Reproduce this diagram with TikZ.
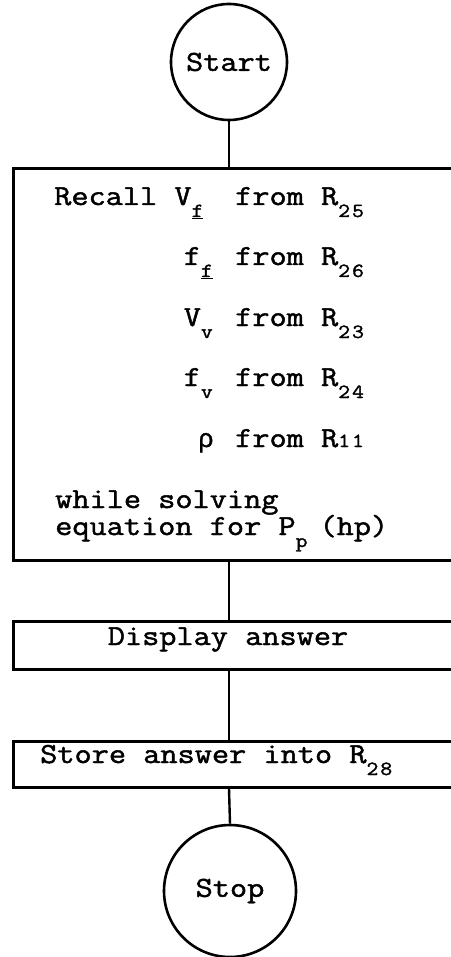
\documentclass[tikz,border=0pt]{standalone}
\usepackage{fontspec}
\newfontfamily\tw[FakeBold=1.6,FakeStretch=1.15]{Latin Modern Mono}
\newfontfamily\gr[FakeBold=1.2]{Liberation Mono}
\newcommand\sbs[1]{\raisebox{-12pt}{\fontsize{20}{20}\tw #1}}
\newcommand\sbn[1]{{\fontsize{20}{20}\tw #1}}
\begin{document}
\begin{tikzpicture}[x=1pt,y=1pt,
  txt/.style={font=\fontsize{29}{32}\tw, inner sep=0pt},
  term/.style={circle, draw, line width=2.6pt, inner sep=0pt, font=\fontsize{29}{32}\tw},
  boxx/.style={rectangle, draw, line width=2.6pt, inner sep=0pt, anchor=north west},
  conn/.style={line width=2.4pt}]
\useasboundingbox (0,0) rectangle (450,-957);
% terminals
\node[term, minimum size=116pt] (start) at (229,-62) {Start};
\node[term, minimum size=132pt] (stop) at (230,-891) {Stop};
% boxes
\node[boxx, minimum width=460pt, minimum height=392pt] (main) at (12,-167) {};
\node[boxx, minimum width=460pt, minimum height=48pt] (disp) at (12,-620) {};
\node[boxx, minimum width=460pt, minimum height=46pt] (store) at (12,-740) {};
% connectors
\draw[conn] (start.south) -- (start.south |- main.north);
\draw[conn] (start.south |- main.south) -- (start.south |- disp.north);
\draw[conn] (start.south |- disp.south) -- (start.south |- store.north);
\draw[conn] (start.south |- store.south) -- (stop.north);
% main box text
\node[txt, anchor=base west] (l1a) at (54,-205) {Recall V\sbs{\underline{f}}};
\node[txt, anchor=base west] (l1b) at (235,-205) {from R\sbs{2\kern2pt5}};
\node[txt, anchor=base east] (l2a) at (213,-265) {f\sbs{\underline{f}}};
\node[txt, anchor=base west] (l2b) at (235,-265) {from R\sbs{2\kern2pt6}};
\node[txt, anchor=base east] (l3a) at (213,-326) {V\sbs{v}};
\node[txt, anchor=base west] (l3b) at (235,-326) {from R\sbs{2\kern2pt3}};
\node[txt, anchor=base east] (l4a) at (213,-386) {f\sbs{v}};
\node[txt, anchor=base west] (l4b) at (235,-386) {from R\sbs{2\kern2pt4}};
\node[txt, anchor=base east, font=\fontsize{26}{30}\gr] (l5a) at (214,-447) {ρ};
\node[txt, anchor=base west] (l5b) at (235,-447) {from R\sbn{1\kern2pt1}};
\node[txt, anchor=base west] (l6) at (55,-508) {while solving};
\node[txt, anchor=base west] (l7) at (55,-535) {equation for P\sbs{p}\kern12pt (hp)};
% other texts
\node[txt, anchor=base] (dtxt) at (228,-645) {Display answer};
\node[txt, anchor=base west] (stxt) at (40,-763) {Store answer into R\sbs{2\kern2pt8}};
\end{tikzpicture}
\end{document}
